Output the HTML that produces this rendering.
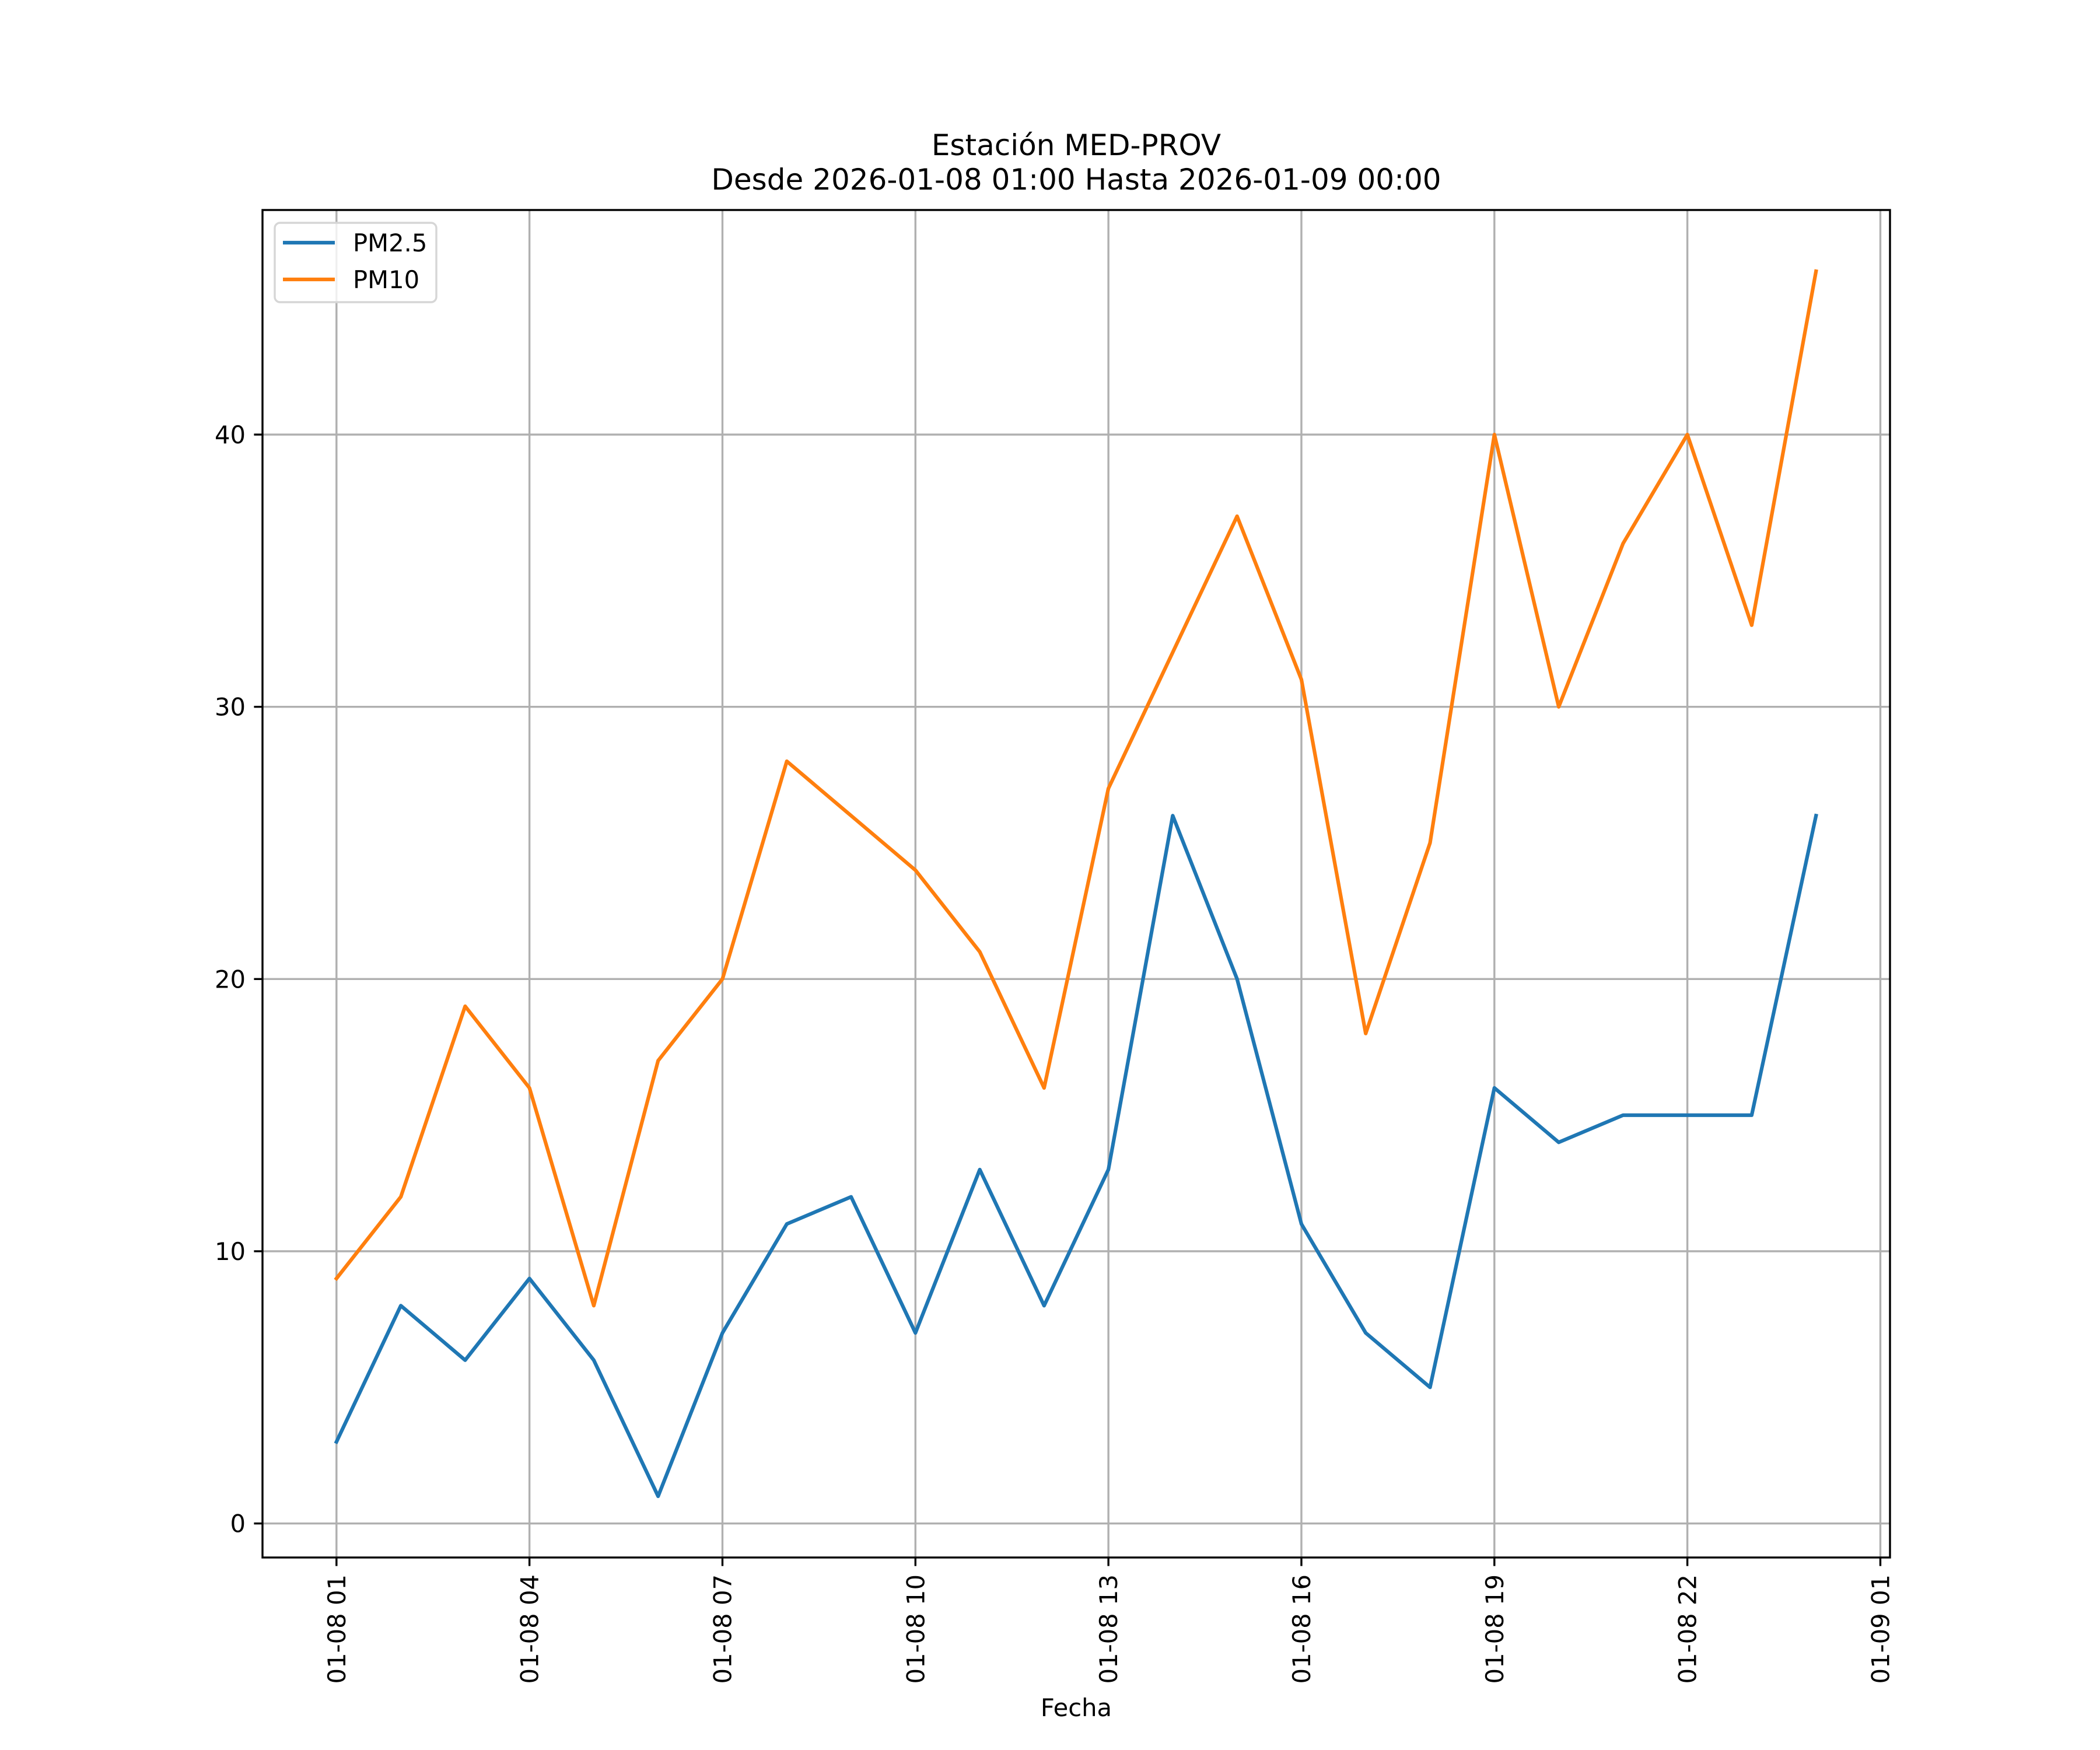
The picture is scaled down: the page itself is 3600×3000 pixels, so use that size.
<!DOCTYPE html>
<html><head><meta charset="utf-8"><style>
html,body{margin:0;padding:0;background:#fff;}
svg{display:block;font-family:"DejaVu Sans","Liberation Sans",sans-serif;}
</style></head><body>
<svg id="chart" width="3600" height="3000" viewBox="0 0 3600 3000" xmlns="http://www.w3.org/2000/svg">
<rect width="3600" height="3000" fill="#fff"/>
<g id="grid"></g>
<g id="series"></g>
<rect x="450" y="360" width="2790" height="2310" fill="none" stroke="#000" stroke-width="3.4"/>
<g id="axes"></g>
<text x="1845" y="266" font-size="50" text-anchor="middle">Estación MED-PROV</text>
<text x="1845" y="325" font-size="50" text-anchor="middle">Desde 2026-01-08 01:00 Hasta 2026-01-09 00:00</text>
<text x="1845" y="2942" font-size="41.7" text-anchor="middle">Fecha</text>
<g>
<rect x="471" y="382" width="277" height="136" rx="9" fill="#fff" fill-opacity="0.8" stroke="#d6d6d6" stroke-width="3.4"/>
<line x1="485" y1="416" x2="574" y2="416" stroke="#1f77b4" stroke-width="6.25"/>
<text x="605" y="431" font-size="41.7">PM2.5</text>
<line x1="485" y1="479" x2="574" y2="479" stroke="#ff7f0e" stroke-width="6.25"/>
<text x="605" y="494" font-size="41.7">PM10</text>
</g>
</svg>
<script>
const hours = [0,1,2,3,4,5,6,7,8,9,10,11,12,13,14,15,16,17,18,19,20,21,22,23];
const pm25 = [3,8,6,9,6,1,7,11,12,7,13,8,13,26,20,11,7,5,16,14,15,15,15,26];
const pm10 = [9,12,19,16,8,17,20,28,26,24,21,16,27,32,37,31,18,25,40,30,36,40,33,46];
const xTickHours = [0,3,6,9,12,15,18,21,24];
const xTickLabels = ["01-08 01","01-08 04","01-08 07","01-08 10","01-08 13","01-08 16","01-08 19","01-08 22","01-09 01"];
const yTicks = [0,10,20,30,40];

const L=450,R=3240,T=360,B=2670;
const allV = pm25.concat(pm10);
const vmin=Math.min(...allV), vmax=Math.max(...allV);
const ypad=(vmax-vmin)*0.05, y0=vmin-ypad, y1=vmax+ypad;
const hmin=Math.min(...hours), hmax=Math.max(...hours);
const xpad=(hmax-hmin)*0.05, x0=hmin-xpad, x1=hmax+xpad;
function X(h){return L+(h-x0)/(x1-x0)*(R-L);}
function Y(v){return B-(v-y0)/(y1-y0)*(B-T);}
const NS="http://www.w3.org/2000/svg";
function mk(tag,attrs,parent){const e=document.createElementNS(NS,tag);for(const k in attrs)e.setAttribute(k,attrs[k]);parent.appendChild(e);return e;}
const grid=document.getElementById('grid'), axes=document.getElementById('axes'), series=document.getElementById('series');
xTickHours.forEach((h,i)=>{
  const x=X(h);
  const g=mk('line',{x1:x,y1:T,x2:x,y2:B,stroke:'#b0b0b0','stroke-width':3.4},grid);
  
  
  const t=mk('line',{x1:x,y1:B,x2:x,y2:B+14.6,stroke:'#000','stroke-width':3.4},axes);
  
  
  const lb=mk('text',{x:0,y:0,'font-size':41.7,'text-anchor':'end',transform:`translate(${x+15},${B+29}) rotate(-90)`},axes);
  lb.textContent=xTickLabels[i];
  
  
});
yTicks.forEach(v=>{
  const y=Y(v);
  const g=mk('line',{x1:L,y1:y,x2:R,y2:y,stroke:'#b0b0b0','stroke-width':3.4},grid);
  
  
  const t=mk('line',{x1:L-14.6,y1:y,x2:L,y2:y,stroke:'#000','stroke-width':3.4},axes);
  
  
  const lb=mk('text',{x:L-29,y:y+15,'font-size':41.7,'text-anchor':'end'},axes);
  lb.textContent=String(v);
  
  
});
function line(vals,color,name){
  const pts=vals.map((v,i)=>X(hours[i]).toFixed(1)+','+Y(v).toFixed(1)).join(' ');
  const p=mk('polyline',{points:pts,fill:'none',stroke:color,'stroke-width':6.25,'stroke-linejoin':'round','stroke-linecap':'square'},series);
  
  
}
line(pm25,'#1f77b4','pm25-line');
line(pm10,'#ff7f0e','pm10-line');
</script>
</body></html>
